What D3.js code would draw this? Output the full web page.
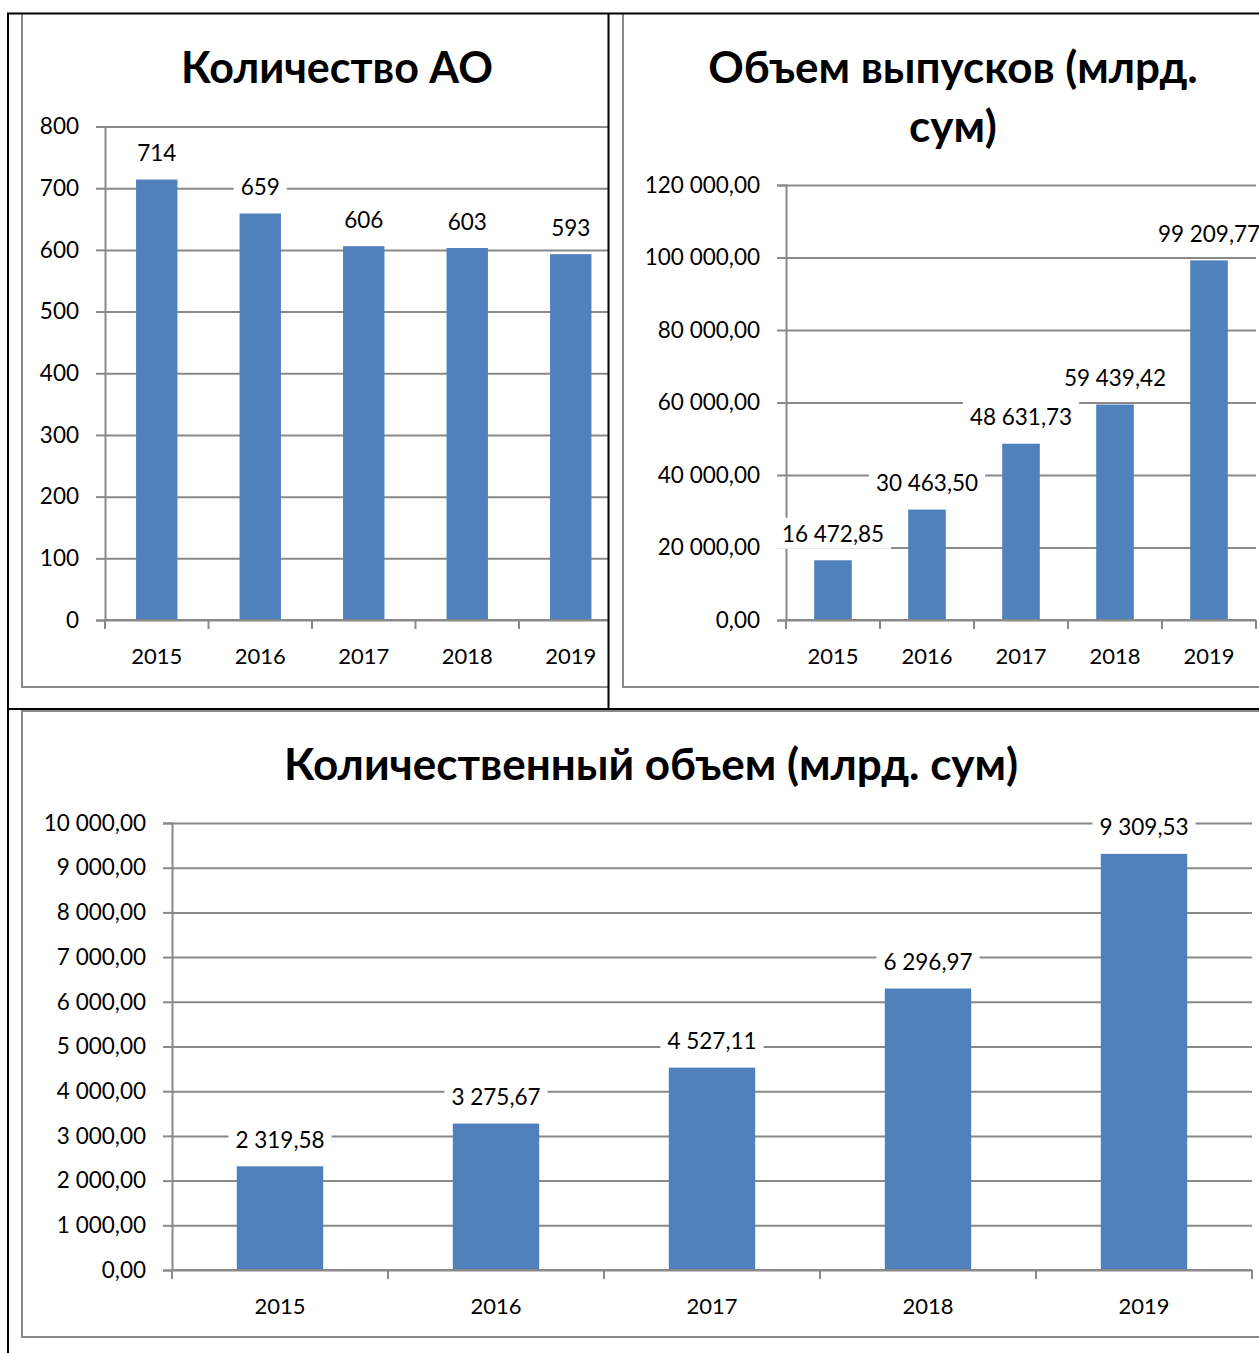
<!DOCTYPE html>
<html>
<head>
<meta charset="utf-8">
<script src="https://cdnjs.cloudflare.com/ajax/libs/d3/7.8.5/d3.min.js"></script>
<style>
  body { margin: 0; background: #fff; }
  svg { display: block; font-family: Lato, "Open Sans", sans-serif; }
</style>
</head>
<body>
<div id="chart"></div>
<script>
// chart data
const years = ["2015", "2016", "2017", "2018", "2019"];
const countAO = [714, 659, 606, 603, 593];
const issueVolume = [16472.85, 30463.50, 48631.73, 59439.42, 99209.77];
const quantVolume = [2319.58, 3275.67, 4527.11, 6296.97, 9309.53];

// tick values
const ticksAO = [0, 100, 200, 300, 400, 500, 600, 700, 800];
const ticksIssue = [0, 20000, 40000, 60000, 80000, 100000, 120000];
const ticksQuant = [0, 1000, 2000, 3000, 4000, 5000, 6000, 7000, 8000, 9000, 10000];

const W = 1259, H = 1353;
const barColor = "#4f81bd";
const gridColor = "#898989";
const numSize = 22.5;

// russian number format: space thousands, comma decimals
const ru = d3.formatLocale({ decimal: ",", thousands: " ", grouping: [3], currency: ["", ""] });
const fmtInt = ru.format(",d");
const fmt2 = ru.format(",.2f");

const svg = d3.select("#chart").append("svg")
  .attr("width", W)
  .attr("height", H);

const defs = svg.append("defs");

function drawChart(cfg) {
  // clip to the table cell
  defs.append("clipPath").attr("id", cfg.id)
    .append("rect")
    .attr("x", cfg.cell[0]).attr("y", cfg.cell[1])
    .attr("width", cfg.cell[2]).attr("height", cfg.cell[3]);

  const g = svg.append("g").attr("clip-path", `url(#${cfg.id})`);

  // chart frame
  g.append("rect")
    .attr("x", cfg.frame[0]).attr("y", cfg.frame[1])
    .attr("width", cfg.frame[2]).attr("height", cfg.frame[3])
    .attr("fill", "#fff")
    .attr("stroke", gridColor)
    .attr("stroke-width", 2);

  // title
  cfg.title.forEach((line, i) => {
    g.append("text")
      .attr("x", cfg.titleX)
      .attr("y", cfg.titleY + i * 59)
      .attr("text-anchor", "middle")
      .attr("dominant-baseline", "central")
      .attr("font-size", cfg.titleSize)
      .attr("font-weight", "bold")
      .attr("fill", "#000")
      .text(line);
  });

  const x = d3.scaleBand()
    .domain(years)
    .range([cfg.left, cfg.right])
    .paddingInner(0.6)
    .paddingOuter(0.3);

  const y = d3.scaleLinear()
    .domain([0, d3.max(cfg.ticks)])
    .range([cfg.bottom, cfg.top]);

  const plotW = cfg.right - cfg.left;

  // gridlines
  g.append("g")
    .attr("transform", `translate(${cfg.left},0)`)
    .call(d3.axisLeft(y).tickValues(cfg.ticks).tickSize(-plotW).tickFormat(""))
    .call(a => a.select(".domain").remove())
    .call(a => a.selectAll("line").attr("stroke", gridColor).attr("stroke-width", 2));

  // y axis
  g.append("g")
    .attr("transform", `translate(${cfg.left},0)`)
    .call(d3.axisLeft(y).tickValues(cfg.ticks).tickSize(9).tickPadding(17).tickFormat(cfg.fmt))
    .call(a => a.select(".domain").attr("stroke", gridColor).attr("stroke-width", 2))
    .call(a => a.selectAll("line").attr("stroke", gridColor).attr("stroke-width", 2))
    .call(a => a.selectAll("text")
      .attr("font-size", numSize)
      .attr("font-family", "Lato, sans-serif")
      .attr("fill", "#000"));

  // bars
  g.selectAll(".bar")
    .data(cfg.values)
    .enter().append("rect")
    .attr("class", "bar")
    .attr("x", (d, i) => x(years[i]))
    .attr("y", d => y(d))
    .attr("width", x.bandwidth())
    .attr("height", d => cfg.bottom - y(d))
    .attr("fill", barColor);

  // x axis line with category ticks at band edges
  const edges = years.map(yr => x(yr) - x.step() * 0.3).concat([cfg.right]);
  g.append("line")
    .attr("x1", cfg.left).attr("x2", cfg.right)
    .attr("y1", cfg.bottom).attr("y2", cfg.bottom)
    .attr("stroke", gridColor).attr("stroke-width", 2);
  g.selectAll(".xtick")
    .data(edges)
    .enter().append("line")
    .attr("x1", d => d).attr("x2", d => d)
    .attr("y1", cfg.bottom).attr("y2", cfg.bottom + 9)
    .attr("stroke", gridColor).attr("stroke-width", 2);

  g.selectAll(".xlab")
    .data(years)
    .enter().append("text")
    .attr("x", d => x(d) + x.bandwidth() / 2)
    .attr("y", cfg.bottom + 35)
    .attr("text-anchor", "middle")
    .attr("dominant-baseline", "central")
    .attr("font-size", 22)
    .attr("fill", "#000")
    .text(d => d);

  // data labels with white box behind
  const labs = g.selectAll(".dlab")
    .data(cfg.values)
    .enter().append("g")
    .attr("transform", (d, i) => `translate(${x(years[i]) + x.bandwidth() / 2},${y(d) - 27})`);
  const labText = labs.append("text")
    .attr("text-anchor", "middle")
    .attr("dominant-baseline", "central")
    .attr("font-size", numSize)
    .attr("fill", "#000")
    .text(d => cfg.labelFmt(d));
  labText.each(function() {
    const bb = this.getBBox();
    d3.select(this.parentNode).insert("rect", "text")
      .attr("x", bb.x - 7).attr("y", bb.y - 2)
      .attr("width", bb.width + 14).attr("height", bb.height + 4)
      .attr("fill", "#fff");
  });
}

drawChart({
  id: "c1", cell: [9, 14, 599, 695], frame: [22, 12, 640, 675],
  title: ["Количество АО"], titleX: 337, titleY: 66, titleSize: 43,
  left: 105, right: 622.5, top: 126.5, bottom: 620,
  values: countAO, ticks: ticksAO, fmt: fmtInt, labelFmt: fmtInt
});

drawChart({
  id: "c2", cell: [609, 14, 650, 695], frame: [623, 12, 700, 675],
  title: ["Объем выпусков (млрд.", "сум)"], titleX: 953, titleY: 66, titleSize: 44,
  left: 786, right: 1256, top: 185, bottom: 620,
  values: issueVolume, ticks: ticksIssue, fmt: fmt2, labelFmt: fmt2
});

drawChart({
  id: "c3", cell: [9, 710, 1250, 643], frame: [22, 711, 1300, 626],
  title: ["Количественный объем (млрд. сум)"], titleX: 651, titleY: 763, titleSize: 44,
  left: 172, right: 1252, top: 823, bottom: 1270,
  values: quantVolume, ticks: ticksQuant, fmt: fmt2, labelFmt: fmt2
});

// outer table borders
const border = svg.append("g").attr("stroke", "#000").attr("stroke-width", 2);
border.append("line").attr("x1", 7).attr("x2", W).attr("y1", 13.5).attr("y2", 13.5);
border.append("line").attr("x1", 8).attr("x2", 8).attr("y1", 13).attr("y2", H);
border.append("line").attr("x1", 608.5).attr("x2", 608.5).attr("y1", 13).attr("y2", 709);
border.append("line").attr("x1", 8).attr("x2", W).attr("y1", 709).attr("y2", 709);
</script>
</body>
</html>
